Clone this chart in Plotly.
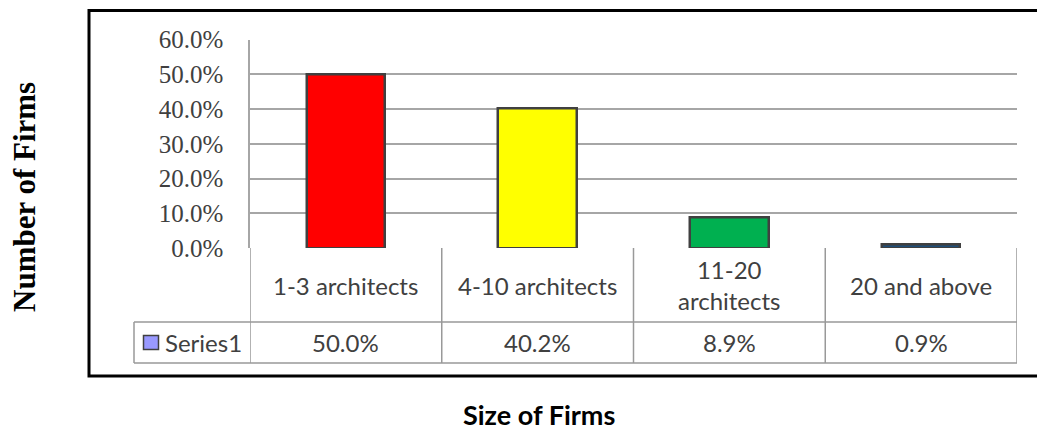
import plotly.graph_objects as go

categories = ["1-3 architects", "4-10 architects", "11-20<br>architects", "20 and above"]
values = [0.500, 0.402, 0.089, 0.009]
value_labels = ["50.0%", "40.2%", "8.9%", "0.9%"]
bar_colors = ["#ff0000", "#ffff00", "#00b050", "#1f4e79"]
series_name = "Series1"
y_title = "Number of Firms"
x_title = "Size of Firms"

W, H = 1037, 430
def px(x):
    return x / W
def py(y):
    return 1 - y / H

x_pos = list(range(len(categories)))

fig = go.Figure()
fig.add_trace(go.Bar(
    x=x_pos, y=values, width=0.41,
    marker=dict(color=bar_colors, line=dict(color="#404040", width=2.5)),
    showlegend=False, hoverinfo="skip",
))

grid = "#a6a6a6"
tbl = "#999999"
shapes = []
for yy in (322, 363):
    shapes.append(dict(type="line", xref="paper", yref="paper",
                       x0=px(134), x1=px(1017), y0=py(yy), y1=py(yy),
                       line=dict(color=tbl, width=1.5)))
for b in [i - 0.5 for i in range(len(categories) + 1)]:
    shapes.append(dict(type="line", xref="x", yref="paper",
                       x0=b, x1=b, y0=py(248), y1=py(363),
                       line=dict(color=tbl, width=1.5)))
shapes.append(dict(type="line", xref="paper", yref="paper",
                   x0=px(134), x1=px(134), y0=py(322), y1=py(363),
                   line=dict(color=tbl, width=1.5)))
shapes.append(dict(type="rect", xref="paper", yref="paper",
                   x0=px(143.5), x1=px(158.5), y0=py(335.5), y1=py(349.5),
                   fillcolor="#9999ff", line=dict(color="#404040", width=1.5)))
shapes.append(dict(type="rect", xref="paper", yref="paper",
                   x0=px(89), x1=px(1045), y0=py(10.5), y1=py(376),
                   line=dict(color="black", width=3)))

sans = "Lato"
txt = "#404040"
annotations = []
for i, c in enumerate(categories):
    annotations.append(dict(x=i, y=py(285), xref="x", yref="paper", text=c,
                            showarrow=False, xanchor="center", yanchor="middle",
                            font=dict(family=sans, size=24, color=txt)))
    annotations.append(dict(x=i, y=py(342), xref="x", yref="paper", text=value_labels[i],
                            showarrow=False, xanchor="center", yanchor="middle",
                            font=dict(family=sans, size=24, color=txt)))
annotations.append(dict(x=px(163), y=py(342), xref="paper", yref="paper", text=series_name,
                        showarrow=False, xanchor="left", yanchor="middle",
                        font=dict(family=sans, size=24, color=txt)))
annotations.append(dict(x=px(24), y=py(197), xref="paper", yref="paper", text="<b>" + y_title + "</b>",
                        showarrow=False, xanchor="center", yanchor="middle", textangle=-90,
                        font=dict(family="Liberation Serif", size=31, color="black")))
annotations.append(dict(x=px(539), y=py(414), xref="paper", yref="paper", text="<b>" + x_title + "</b>",
                        showarrow=False, xanchor="center", yanchor="middle",
                        font=dict(family=sans, size=27, color="black")))

fig.update_layout(
    width=W, height=H, margin=dict(l=0, r=0, t=0, b=0, autoexpand=False),
    paper_bgcolor="white", plot_bgcolor="white",
    xaxis=dict(domain=[px(250), px(1017)], range=[-0.5, len(categories) - 0.5],
               showticklabels=False, showgrid=False, zeroline=False, showline=False,
               automargin=False, fixedrange=True),
    yaxis=dict(domain=[py(248), py(39.5)], range=[0, 0.6], dtick=0.1, tickformat=".1%",
               showgrid=True, gridcolor=grid, gridwidth=1.5, zeroline=False,
               showline=True, linecolor=grid, linewidth=1.5, automargin=False,
               ticks="", ticklabelstandoff=20,
               tickfont=dict(family="Liberation Serif", size=25, color=txt)),
    shapes=shapes, annotations=annotations, bargap=0,
)

fig.write_html("out.html")
